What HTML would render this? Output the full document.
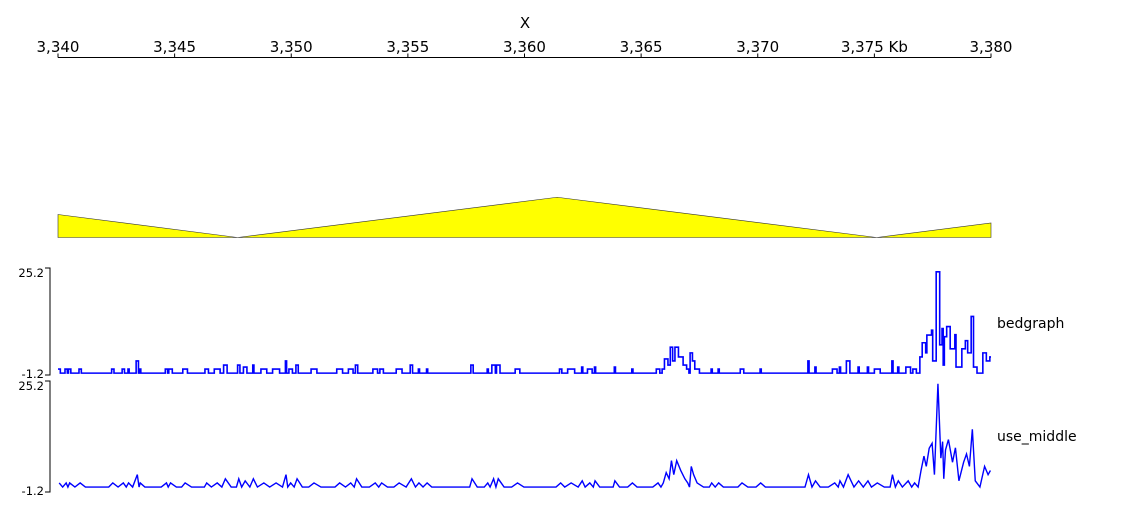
<!DOCTYPE html>
<html><head><meta charset="utf-8"><style>
html,body{margin:0;padding:0;background:#fff;}
svg{display:block;font-family:"DejaVu Sans","Liberation Sans",sans-serif;}
</style></head><body>
<svg id="chart" width="1133" height="508" viewBox="0 0 1133 508">
<text x="525" y="28" font-size="15" text-anchor="middle">X</text>
<g id="xaxis"></g>
<g id="tri"></g>
<g id="t1"></g>
<g id="t2"></g>
<text x="997" y="328" font-size="14">bedgraph</text>
<text x="997" y="441" font-size="14">use_middle</text>
</svg>
<script>
const xTicks=[3340,3345,3350,3355,3360,3365,3370,3375,3380];
const xTickLabels=["3,340","3,345","3,350","3,355","3,360","3,365","3,370","3,375 Kb","3,380"];
const triKb=[3340,3347.7,3361.4,3375.1,3380];
const triVal=[1.0,0,1.75,0,0.63];
const yTickLabels=["25.2","-1.2"];
const yMin=-1.2, yMax=25.2;
// nonzero intervals: start kb, end kb, value
const ivStart=[3340.0,3340.3,3340.45,3340.9,3342.3,3342.75,3343.0,3343.35,3343.5,3344.6,3344.75,3345.35,3346.3,3346.7,3347.1,3347.7,3347.95,3348.35,3348.7,3349.2,3349.75,3349.9,3350.2,3350.85,3351.95,3352.45,3352.75,3353.5,3353.8,3354.5,3355.1,3355.45,3355.8,3357.7,3358.4,3358.6,3358.8,3359.6,3361.5,3361.85,3362.45,3362.7,3363.0,3363.85,3364.6,3365.65,3365.9,3366.0,3366.15,3366.25,3366.35,3366.45,3366.6,3366.8,3366.95,3367.1,3367.2,3367.3,3368.0,3368.3,3369.25,3370.1,3372.15,3372.45,3373.2,3373.5,3373.8,3374.3,3374.7,3375.0,3375.75,3376.0,3376.35,3376.65,3376.95,3377.05,3377.2,3377.25,3377.45,3377.5,3377.65,3377.8,3377.9,3377.95,3378.0,3378.1,3378.25,3378.45,3378.5,3378.75,3378.9,3379.0,3379.15,3379.25,3379.65,3379.8,3379.95];
const ivEnd=[3340.1,3340.4,3340.55,3341.0,3342.4,3342.85,3343.05,3343.45,3343.55,3344.7,3344.9,3345.55,3346.45,3346.95,3347.25,3347.8,3348.1,3348.4,3348.95,3349.5,3349.8,3350.05,3350.3,3351.1,3352.2,3352.65,3352.85,3353.7,3353.95,3354.75,3355.2,3355.5,3355.85,3357.8,3358.45,3358.75,3358.95,3359.8,3361.6,3362.15,3362.5,3362.9,3363.05,3363.9,3364.65,3365.8,3366.0,3366.15,3366.25,3366.35,3366.45,3366.6,3366.8,3366.95,3367.05,3367.2,3367.3,3367.5,3368.05,3368.35,3369.4,3370.15,3372.2,3372.5,3373.4,3373.55,3373.95,3374.35,3374.75,3375.25,3375.8,3376.05,3376.55,3376.8,3377.05,3377.2,3377.25,3377.45,3377.5,3377.65,3377.8,3377.9,3377.95,3378.0,3378.1,3378.25,3378.45,3378.5,3378.75,3378.9,3379.0,3379.15,3379.25,3379.4,3379.8,3379.95,3380.0];
const ivVal=[1,1,1,1,1,1,1,3,1,1,1,1,1,1,2,2,1.5,2,1,1,3,1,2,1,1,1,2,1,1,1,2,1,1,2,1,2,2,1,1,1,1.5,1,1.5,1.5,1,1,1,3.5,2,6.4,3,6.4,4,2,1,5,3,1,1,1,1,1,3,1.5,1,1.5,3,1.5,1.5,1,3,1.5,1.5,1,4,7.5,5,9.4,10.6,3,25,7,11,2,9,11.5,6,9.5,1.5,6,8,5,14,1.5,5,3,4];

const NS="http://www.w3.org/2000/svg";
const X0=58,X1=991,K0=3340,K1=3380;
function xs(kb){return X0+(kb-K0)/(K1-K0)*(X1-X0);}
function mk(tag,attrs,parent){const e=document.createElementNS(NS,tag);for(const k in attrs)e.setAttribute(k,attrs[k]);parent.appendChild(e);return e;}

// x axis
const xa=document.getElementById('xaxis');
const axl=mk('line',{x1:X0,y1:57.5,x2:X1,y2:57.5,stroke:'#000','stroke-width':1},xa);


xTicks.forEach((t,i)=>{
  const tk=mk('line',{x1:xs(t),y1:53.5,x2:xs(t),y2:57.5,stroke:'#000','stroke-width':1},xa);
  
  
  const tl=mk('text',{x:xs(t),y:52,'font-size':15,'text-anchor':'middle'},xa);
  
  
  tl.textContent=xTickLabels[i];
});

// yellow track
const tri=document.getElementById('tri');
const triBase=237.5, triScale=23;
let pts=triKb.map((k,i)=>xs(k)+','+(triBase-triVal[i]*triScale)).join(' ');
pts+=' '+xs(K1)+','+triBase+' '+xs(K0)+','+triBase;
const poly=mk('polygon',{points:pts,fill:'#ffff00',stroke:'#333','stroke-width':0.6},tri);



// full interval list with zero gaps
const bins=[];let cur=K0;
for(let i=0;i<ivStart.length;i++){
  if(ivStart[i]>cur+1e-9){
    let g=cur;const step=0.35;
    while(g<ivStart[i]-1e-9){const e=Math.min(ivStart[i],g+step);bins.push([g,e,0]);g=e;}
  }
  bins.push([ivStart[i],ivEnd[i],ivVal[i]]);cur=ivEnd[i];
}
if(cur<K1)bins.push([cur,K1,0]);

function yAxis(g,top,bot,axTop,axBot,name){
  const ys=v=>bot-(v-yMin)/(yMax-yMin)*(bot-top);
  const a=mk('path',{d:`M45,${axTop}H50V${axBot}H45`,fill:'none',stroke:'#000','stroke-width':1},g);
  
  
  const l1=mk('text',{x:44,y:axTop+9,'font-size':11.5,'text-anchor':'end'},g);
  
  
  l1.textContent=yTickLabels[0];
  const l2=mk('text',{x:44,y:axBot+3,'font-size':11.5,'text-anchor':'end'},g);
  
  
  l2.textContent=yTickLabels[1];
  return ys;
}
// bedgraph step line
const t1=document.getElementById('t1');
const y1=yAxis(t1,271,378,268,375,'bedgraph');
let d='';
bins.forEach((b,i)=>{const y=y1(b[2]);d+=(i?'L':'M')+xs(b[0])+','+y+'L'+xs(b[1])+','+y;});
const p1=mk('path',{d:d,fill:'none',stroke:'#0000ff','stroke-width':1.6},t1);



// use_middle line
const t2=document.getElementById('t2');
const y2=yAxis(t2,383,492,381,492,'use-middle');
let d2='';
bins.forEach((b,i)=>{d2+=(i?'L':'M')+xs((b[0]+b[1])/2)+','+y2(b[2]);});
const p2=mk('path',{d:d2,fill:'none',stroke:'#0000ff','stroke-width':1.4},t2);


</script>
</body></html>
